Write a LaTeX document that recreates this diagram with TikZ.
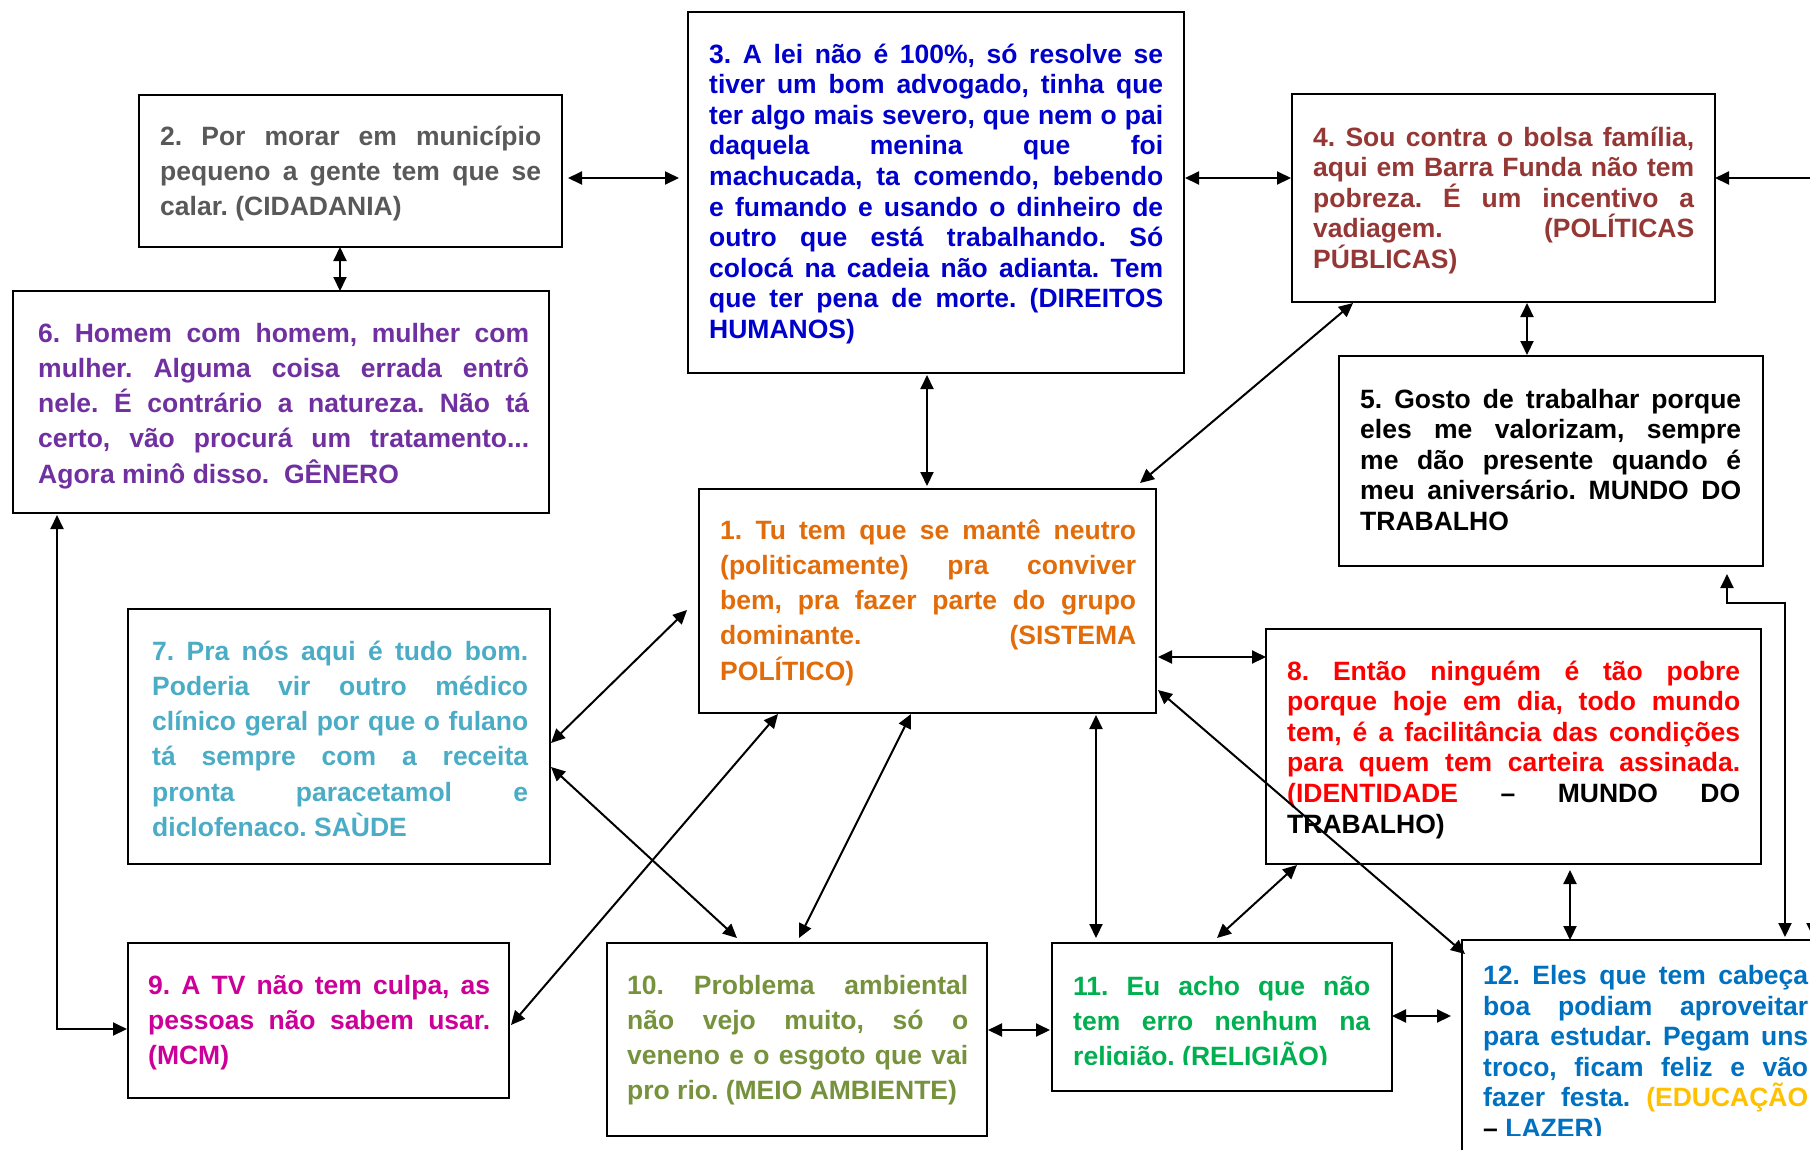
\documentclass[tikz,border=0pt]{standalone}
\usepackage{fontspec}
\setmainfont{Liberation Sans}
\usetikzlibrary{arrows.meta}
\definecolor{c1}{HTML}{E36C0A}
\definecolor{c2}{HTML}{595959}
\definecolor{c3}{HTML}{0000CC}
\definecolor{c4}{HTML}{953735}
\definecolor{c6}{HTML}{7030A0}
\definecolor{c7}{HTML}{4BACC6}
\definecolor{c8}{HTML}{FF0000}
\definecolor{c9}{HTML}{CC0099}
\definecolor{c10}{HTML}{76923C}
\definecolor{c11}{HTML}{00B050}
\definecolor{c12}{HTML}{0070C0}
\definecolor{cgold}{HTML}{FFC000}
\frenchspacing
\hyphenpenalty=10000 \exhyphenpenalty=10000 \tolerance=10000
\tikzset{
  box/.style={draw, line width=2.2pt, inner sep=0pt, outer sep=0pt, anchor=north west},
  txt/.style={inner sep=0pt, anchor=base west, align=justify, font=\fontsize{26.5}{35.3}\selectfont\bfseries},
  txtb/.style={txt, font=\fontsize{26.5}{30.6}\selectfont\bfseries},
  conn/.style={line width=2pt, {Triangle[length=14pt,width=13pt]}-{Triangle[length=14pt,width=13pt]}},
  one/.style={line width=2pt, -{Triangle[length=14pt,width=13pt]}},
}
\begin{document}
\begin{tikzpicture}[x=1pt,y=-1pt]
\useasboundingbox (0,0) rectangle (1810,1149);
\clip (0,0) rectangle (1810,1149);
\fill[white] (0,0) rectangle (1810,1149);

% boxes
\node[box, minimum width=457pt, minimum height=224pt] (b1) at (699,489) {};
\node[box, minimum width=423pt, minimum height=152pt] (b2) at (139,95) {};
\node[box, minimum width=496pt, minimum height=361pt] (b3) at (688,12) {};
\node[box, minimum width=423pt, minimum height=208pt] (b4) at (1292,94) {};
\node[box, minimum width=424pt, minimum height=210pt] (b5) at (1339,356) {};
\node[box, minimum width=536pt, minimum height=222pt] (b6) at (13,291) {};
\node[box, minimum width=422pt, minimum height=255pt] (b7) at (128,609) {};
\node[box, minimum width=495pt, minimum height=235pt] (b8) at (1266,629) {};
\node[box, minimum width=381pt, minimum height=155pt] (b9) at (128,943) {};
\node[box, minimum width=380pt, minimum height=193pt] (b10) at (607,943) {};
\node[box, minimum width=340pt, minimum height=148pt] (b11) at (1052,943) {};
\node[box, minimum width=400pt, minimum height=240pt] (b12) at (1462,940) {};

% texts
\node[txt, text width=416pt, text=c1] (t1) at ([shift={(21,50)}]b1.north west)
  {1. Tu tem que se mantê neutro\linebreak (politicamente) pra conviver\linebreak bem, pra fazer parte do grupo\linebreak dominante. (SISTEMA\linebreak POLÍTICO)};
\node[txt, text width=381pt, text=c2] (t2) at ([shift={(21,50)}]b2.north west)
  {2. Por morar em município\linebreak pequeno a gente tem que se\linebreak calar. (CIDADANIA)};
\node[txtb, text width=454pt, text=c3] (t3) at ([shift={(21,51)}]b3.north west)
  {3. A lei não é 100\%, só resolve se\linebreak tiver um bom advogado, tinha que\linebreak ter algo mais severo, que nem o pai\linebreak daquela menina que foi\linebreak machucada, ta comendo, bebendo\linebreak e fumando e usando o dinheiro de\linebreak outro que está trabalhando. Só\linebreak colocá na cadeia não adianta. Tem\linebreak que ter pena de morte. (DIREITOS\linebreak HUMANOS)};
\node[txtb, text width=381pt, text=c4] (t4) at ([shift={(21,52)}]b4.north west)
  {4. Sou contra o bolsa família,\linebreak aqui em Barra Funda não tem\linebreak pobreza. É um incentivo a\linebreak vadiagem. (POLÍTICAS\linebreak PÚBLICAS)};
\node[txtb, text width=381pt] (t5) at ([shift={(21,52)}]b5.north west)
  {5. Gosto de trabalhar porque\linebreak eles me valorizam, sempre\linebreak me dão presente quando é\linebreak meu aniversário. MUNDO DO\linebreak TRABALHO};
\node[txt, text width=491pt, text=c6] (t6) at ([shift={(25,51)}]b6.north west)
  {6. Homem com homem, mulher com\linebreak mulher. Alguma coisa errada entrô\linebreak nele. É contrário a natureza. Não tá\linebreak certo, vão procurá um tratamento...\linebreak Agora minô disso.\ \ GÊNERO};
\node[txt, text width=376pt, text=c7] (t7) at ([shift={(24,51)}]b7.north west)
  {7. Pra nós aqui é tudo bom.\linebreak Poderia vir outro médico\linebreak clínico geral por que o fulano\linebreak tá sempre com a receita\linebreak pronta paracetamol e\linebreak diclofenaco. SAÙDE};
\node[txtb, text width=453pt, text=c8] (t8) at ([shift={(21,51)}]b8.north west)
  {8. Então ninguém é tão pobre\linebreak porque hoje em dia, todo mundo\linebreak tem, é a facilitância das condições\linebreak para quem tem carteira assinada.\linebreak (IDENTIDADE {\color{black}– MUNDO DO\linebreak TRABALHO)}};
\node[txt, text width=342pt, text=c9] (t9) at ([shift={(20,51)}]b9.north west)
  {9. A TV não tem culpa, as\linebreak pessoas não sabem usar.\linebreak (MCM)};
\node[txt, text width=341pt, text=c10] (t10) at ([shift={(20,51)}]b10.north west)
  {10. Problema ambiental\linebreak não vejo muito, só o\linebreak veneno e o esgoto que vai\linebreak pro rio. (MEIO AMBIENTE)};
\begin{scope}
\clip (b11.north west) rectangle ([shift={(0,-27)}]b11.south east);
\node[txt, text width=297pt, text=c11] (t11) at ([shift={(21,52)}]b11.north west)
  {11. Eu acho que não\linebreak tem erro nenhum na\linebreak religião. (RELIGIÃO)};
\end{scope}
\begin{scope}
\clip (b12.north west) rectangle ([shift={(400,195)}]b12.north west);
\node[txtb, text width=325pt, text=c12] (t12) at ([shift={(21,44.5)}]b12.north west)
  {12. Eles que tem cabeça\linebreak boa podiam aproveitar\linebreak para estudar. Pegam uns\linebreak troco, ficam feliz e vão\linebreak fazer festa. {\color{cgold}(EDUCAÇÃO}\linebreak {\color{black}–} LAZER)};
\end{scope}

% connectors
\coordinate (cin) at (1830,178);
\coordinate (cup) at (1813,600);
\draw[conn] ([shift={(6,83)}]b2.north east) -- ([shift={(-9,166)}]b3.north west);
\draw[conn] ([shift={(1,166)}]b3.north east) -- ([shift={(-1,84)}]b4.north west);
\draw[one] (cin) -- ([shift={(0,84)}]b4.north east);
\draw[conn] ([shift={(201,0)}]b2.south west) -- ([shift={(327,0)}]b6.north west);
\draw[conn] ([shift={(239,2)}]b3.south west) -- ([shift={(228,-3)}]b1.north west);
\draw[conn] ([shift={(61,1)}]b4.south west) -- ([shift={(-16,-6)}]b1.north east);
\draw[conn] ([shift={(235,1)}]b4.south west) -- ([shift={(188,-1)}]b5.north west);
\draw[conn] ([shift={(44,2)}]b6.south west) |- ([shift={(-1,86)}]b9.north west);
\draw[conn] ([shift={(-12,121)}]b1.north west) -- ([shift={(1,134)}]b7.north east);
\draw[conn] ([shift={(1,158)}]b7.north east) -- ([shift={(130,-5)}]b10.north west);
\draw[conn] ([shift={(2,82)}]b9.north east) -- ([shift={(79,1)}]b1.south west);
\draw[conn] ([shift={(192,-5)}]b10.north west) -- ([shift={(212,1)}]b1.south west);
\draw[conn] ([shift={(397,2)}]b1.south west) -- ([shift={(44,-5)}]b11.north west);
\draw[conn] ([shift={(2,168)}]b1.north east) -- ([shift={(0,28)}]b8.north west);
\draw[conn] ([shift={(3,14)}]b12.north west) -- ([shift={(2,201)}]b1.north east);
\draw[conn] ([shift={(31,1)}]b8.south west) -- ([shift={(165,-5)}]b11.north west);
\draw[conn] ([shift={(304,6)}]b8.south west) -- ([shift={(108,0)}]b12.north west);
\draw[conn] ([shift={(1,87)}]b10.north east) -- ([shift={(-2,87)}]b11.north west);
\draw[conn] ([shift={(0,73)}]b11.north east) -- ([shift={(-11,76)}]b12.north west);
\draw[conn] ([shift={(-36,8)}]b5.south east) -- ++(0,29) -| ([shift={(323,-3)}]b12.north west);
\draw[one] (cup) -- ([shift={(351,-3)}]b12.north west);

\end{tikzpicture}
\end{document}
